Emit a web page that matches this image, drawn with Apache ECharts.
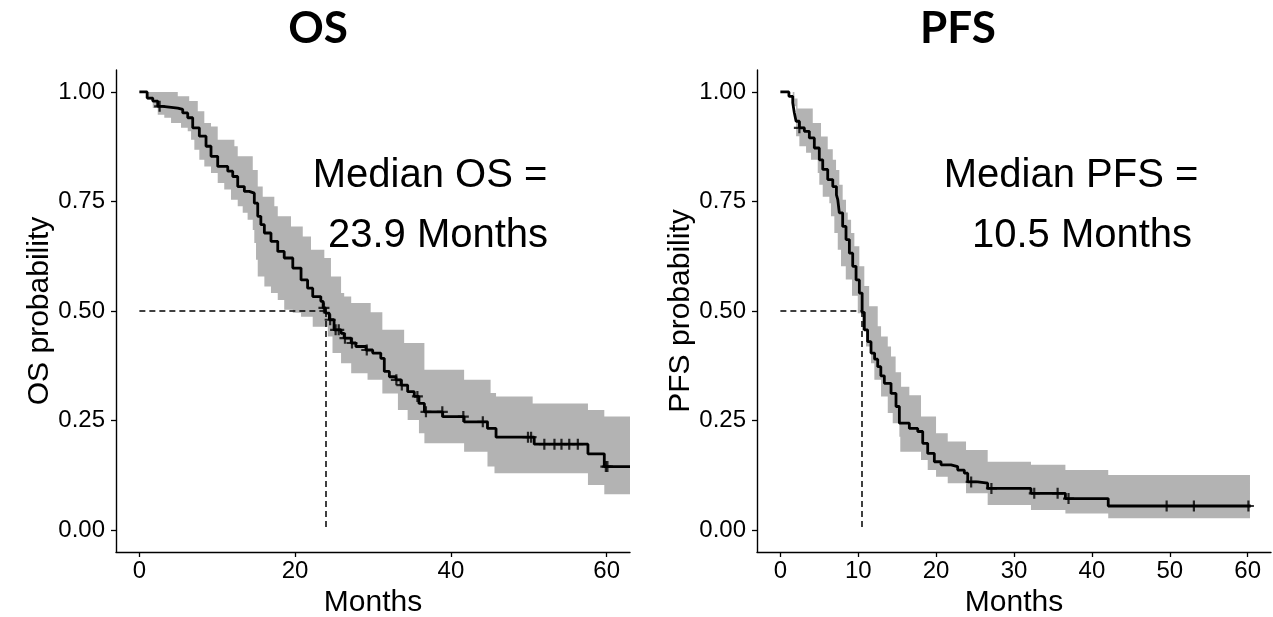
<!DOCTYPE html>
<html>
<head>
<meta charset="utf-8">
<title>OS / PFS</title>
<script src="https://cdn.jsdelivr.net/npm/echarts@6/dist/echarts.min.js"></script>
<style>
    html, body { margin: 0; padding: 0; background: #fff; }
    #chart { width: 1273px; height: 617px; }
</style>
</head>
<body>
<div id="chart"></div>
<script>
// values: months / probability
var osTime = [0, 1.0, 1.72, 2.36, 3.0, 4.93, 5.57, 6.21, 6.85, 7.7, 8.56, 9.2, 10.06, 11.35, 11.99, 12.63, 13.48, 14.1, 14.76, 15.2, 15.6, 16.05, 16.9, 17.77, 18.6, 19.7, 20.76, 21.6, 22.26, 23.3, 23.6, 23.9, 24.4, 25.0, 25.9, 26.3, 27.2, 27.8, 29.1, 29.96, 31.0, 31.45, 32.1, 32.95, 33.6, 34.45, 35.3, 35.9, 36.6, 38.95, 41.7, 44.7, 45.8, 50.7, 57.6, 59.7, 63];
var osSurv = [1, 0.986, 0.979, 0.967, 0.963, 0.960, 0.952, 0.941, 0.918, 0.899, 0.876, 0.853, 0.830, 0.819, 0.807, 0.784, 0.773, 0.769, 0.746, 0.716, 0.697, 0.678, 0.659, 0.636, 0.621, 0.598, 0.571, 0.552, 0.533, 0.522, 0.507, 0.495, 0.480, 0.457, 0.449, 0.438, 0.427, 0.419, 0.411, 0.404, 0.392, 0.362, 0.350, 0.343, 0.331, 0.316, 0.305, 0.289, 0.270, 0.259, 0.247, 0.232, 0.212, 0.196, 0.174, 0.145, 0.145];
var osCensor = [2.6, 23.7, 24.5, 25.2, 25.6, 26.4, 27.3, 29.2, 33.0, 33.7, 35.7, 36.8, 38.9, 41.6, 44.1, 49.9, 50.3, 52.0, 53.3, 54.2, 55.2, 56.3, 59.9, 60.1];
var osHiTime = [0, 4.93, 6.4, 7.5, 8.34, 9.2, 10.06, 12.2, 12.63, 14.56, 15.2, 15.84, 17.33, 17.77, 19.47, 20.98, 22.04, 23.75, 24.6, 25.9, 26.3, 27.2, 29.7, 31.2, 34.0, 36.6, 41.7, 45.1, 45.8, 50.5, 57.6, 59.7, 63];
var osHi = [1, 0.990, 0.979, 0.956, 0.929, 0.921, 0.891, 0.876, 0.853, 0.822, 0.784, 0.761, 0.739, 0.716, 0.693, 0.670, 0.640, 0.621, 0.579, 0.541, 0.533, 0.518, 0.497, 0.457, 0.427, 0.366, 0.343, 0.313, 0.305, 0.289, 0.274, 0.259, 0.259];
var osLoTime = [0, 1.08, 1.72, 2.36, 3.2, 4.07, 5.35, 6.21, 6.64, 7.06, 7.7, 8.34, 9.2, 10.06, 10.9, 11.77, 12.63, 13.27, 13.9, 14.56, 14.76, 14.98, 15.2, 16.05, 16.9, 17.77, 18.6, 19.7, 20.76, 22.26, 24.2, 24.8, 25.9, 27.2, 29.3, 31.2, 33.2, 34.45, 35.9, 36.6, 41.7, 44.7, 45.6, 57.6, 59.7, 63];
var osLo = [1, 0.982, 0.963, 0.948, 0.941, 0.929, 0.918, 0.910, 0.891, 0.868, 0.845, 0.830, 0.815, 0.792, 0.777, 0.754, 0.739, 0.724, 0.708, 0.685, 0.655, 0.617, 0.579, 0.556, 0.541, 0.525, 0.503, 0.496, 0.487, 0.464, 0.442, 0.404, 0.381, 0.358, 0.343, 0.312, 0.274, 0.251, 0.221, 0.198, 0.179, 0.145, 0.130, 0.103, 0.082, 0.082];
var osMedian = 23.9;

var pfsTime = [0, 1.1, 1.59, 1.8, 2.02, 2.44, 3.08, 3.72, 4.36, 5.0, 5.44, 6.08, 6.73, 7.2, 7.37, 7.57, 8.0, 8.43, 8.86, 9.29, 9.72, 10.14, 10.5, 10.78, 11.2, 11.64, 12.1, 12.5, 12.9, 13.35, 14.21, 14.85, 15.28, 16.56, 17.64, 18.28, 18.92, 19.77, 20.63, 21.91, 22.77, 23.62, 24.06, 25.34, 26.62, 32.18, 36.6, 42.1, 60.4];
var pfsSurv = [1, 0.990, 0.975, 0.952, 0.933, 0.918, 0.910, 0.895, 0.872, 0.845, 0.823, 0.800, 0.784, 0.765, 0.754, 0.724, 0.693, 0.663, 0.632, 0.602, 0.571, 0.541, 0.497, 0.457, 0.430, 0.404, 0.390, 0.373, 0.352, 0.335, 0.312, 0.282, 0.244, 0.232, 0.225, 0.198, 0.175, 0.156, 0.149, 0.145, 0.137, 0.130, 0.110, 0.107, 0.095, 0.084, 0.072, 0.055, 0.055];
var pfsCensor = [2.44, 24.5, 27.1, 32.6, 35.6, 37.0, 49.6, 53.1, 60.1];
var pfsHiTime = [0, 1.8, 2.2, 4.16, 5.22, 6.08, 6.73, 7.15, 7.57, 8.0, 8.43, 8.65, 9.08, 9.5, 10.14, 10.78, 11.4, 12.5, 12.93, 13.79, 14.21, 14.8, 15.5, 16.56, 18.06, 19.99, 21.49, 23.84, 26.62, 32.18, 36.6, 42.1, 60.3];
var pfsHi = [1, 0.985, 0.962, 0.929, 0.898, 0.869, 0.845, 0.822, 0.788, 0.754, 0.725, 0.708, 0.678, 0.648, 0.602, 0.557, 0.511, 0.465, 0.442, 0.419, 0.396, 0.360, 0.327, 0.308, 0.259, 0.221, 0.202, 0.183, 0.156, 0.149, 0.137, 0.126, 0.126];
var pfsLoTime = [0, 1.59, 2.02, 2.44, 3.3, 3.94, 4.8, 5.0, 5.44, 6.29, 6.5, 6.93, 7.37, 7.79, 8.4, 9.2, 9.94, 10.5, 11.0, 11.64, 12.07, 12.93, 13.79, 14.43, 15.28, 15.4, 18.06, 18.92, 19.99, 21.49, 23.84, 26.62, 32.18, 36.6, 42.1, 60.3];
var pfsLo = [1, 0.967, 0.899, 0.876, 0.861, 0.845, 0.815, 0.788, 0.761, 0.746, 0.716, 0.678, 0.640, 0.602, 0.572, 0.535, 0.495, 0.455, 0.419, 0.381, 0.343, 0.305, 0.267, 0.244, 0.213, 0.179, 0.160, 0.137, 0.122, 0.107, 0.084, 0.057, 0.046, 0.038, 0.027, 0.027];
var pfsMedian = 10.5;

var osXTicks = [0, 20, 40, 60];
var pfsXTicks = [0, 10, 20, 30, 40, 50, 60];
var probTicks = [0, 0.25, 0.5, 0.75, 1];

var FONT = 'Liberation Sans, Arial, sans-serif';
// "+" censor mark
var PLUS = 'path://M4,0h2v4h4v2h-4v4h-2v-4h-4v-2h4z';

function stepAt(ts, vs, t) {
    var v = vs[0];
    for (var i = 0; i < ts.length; i++) {
        if (ts[i] <= t) v = vs[i];
    }
    return v;
}

function stepPoints(ts, vs) {
    var pts = [];
    for (var i = 0; i < ts.length; i++) {
        pts.push([ts[i], vs[i]]);
        if (i + 1 < ts.length) pts.push([ts[i + 1], vs[i]]);
    }
    return pts;
}

function xAxisOf(idx, ticks) {
    return {
        type: 'value', gridIndex: idx, min: -3, max: 63,
        name: 'Months', nameLocation: 'middle', nameGap: 34,
        nameTextStyle: { fontFamily: FONT, fontSize: 30, color: '#000' },
        axisLine: { onZero: false, lineStyle: { color: '#000', width: 1.4 } },
        axisTick: { customValues: ticks, length: 5, lineStyle: { color: '#000', width: 1.3 } },
        axisLabel: { customValues: ticks, margin: 7, fontFamily: FONT, fontSize: 24, color: '#000' },
        splitLine: { show: false }
    };
}

function yAxisOf(idx, name) {
    return {
        type: 'value', gridIndex: idx, min: -0.05, max: 1.05,
        name: name, nameLocation: 'middle', nameGap: 58,
        nameTextStyle: { fontFamily: FONT, fontSize: 30, color: '#000' },
        axisLine: { onZero: false, lineStyle: { color: '#000', width: 1.4 } },
        axisTick: { customValues: probTicks, length: 5, lineStyle: { color: '#000', width: 1.3 } },
        axisLabel: {
            customValues: probTicks, margin: 11, fontFamily: FONT, fontSize: 24, color: '#000',
            formatter: function (v) { return v.toFixed(2); }
        },
        splitLine: { show: false }
    };
}

function kmSeries(idx, time, surv, censor, hiT, hi, loT, lo, median) {
    var band = stepPoints(hiT, hi).concat(stepPoints(loT, lo).reverse());
    return [
        {
            type: 'custom', xAxisIndex: idx, yAxisIndex: idx, silent: true, z: 1,
            data: [[0, 0]],
            renderItem: function (params, api) {
                return {
                    type: 'polygon',
                    shape: { points: band.map(function (p) { return api.coord(p); }) },
                    style: { fill: '#b3b3b3' }
                };
            }
        },
        {
            type: 'line', xAxisIndex: idx, yAxisIndex: idx, step: 'end', symbol: 'none', z: 3,
            lineStyle: { color: '#000', width: 2.8 },
            data: time.map(function (t, i) { return [t, surv[i]]; }),
            markLine: {
                silent: true, symbol: 'none', label: { show: false },
                lineStyle: { color: '#000', width: 1.5, type: [6, 4] },
                data: [
                    [{ coord: [0, 0.5] }, { coord: [median, 0.5] }],
                    [{ coord: [median, 0.5] }, { coord: [median, 0] }]
                ]
            }
        },
        {
            type: 'scatter', xAxisIndex: idx, yAxisIndex: idx, z: 4,
            symbol: PLUS, symbolSize: 11,
            itemStyle: { color: '#000' },
            data: censor.map(function (t) { return [t, stepAt(time, surv, t)]; })
        }
    ];
}

function text(str, x, y, size, weight, family) {
    return {
        type: 'text', x: x, y: y, z: 10,
        style: {
            text: str, fill: '#000', fontSize: size, fontWeight: weight || 'normal',
            fontFamily: family || FONT, align: 'center', verticalAlign: 'middle'
        }
    };
}

var chart = echarts.init(document.getElementById('chart'));
chart.setOption({
    animation: false,
    backgroundColor: '#fff',
    grid: [
        { left: 116, top: 70, width: 514, height: 482, outerBoundsMode: 'none' },
        { left: 757, top: 70, width: 514, height: 482, outerBoundsMode: 'none' }
    ],
    xAxis: [xAxisOf(0, osXTicks), xAxisOf(1, pfsXTicks)],
    yAxis: [yAxisOf(0, 'OS probability'), yAxisOf(1, 'PFS probability')],
    series: kmSeries(0, osTime, osSurv, osCensor, osHiTime, osHi, osLoTime, osLo, osMedian)
        .concat(kmSeries(1, pfsTime, pfsSurv, pfsCensor, pfsHiTime, pfsHi, pfsLoTime, pfsLo, pfsMedian)),
    graphic: [
        text('OS', 318, 29, 44, 'bold', 'Lato, sans-serif'),
        text('PFS', 958, 29, 44, 'bold', 'Lato, sans-serif'),
        text('Median OS =', 430, 176, 40),
        text(osMedian + ' Months', 438, 236, 40),
        text('Median PFS =', 1071, 176, 40),
        text(pfsMedian + ' Months', 1082, 236, 40)
    ]
});
</script>
</body>
</html>
